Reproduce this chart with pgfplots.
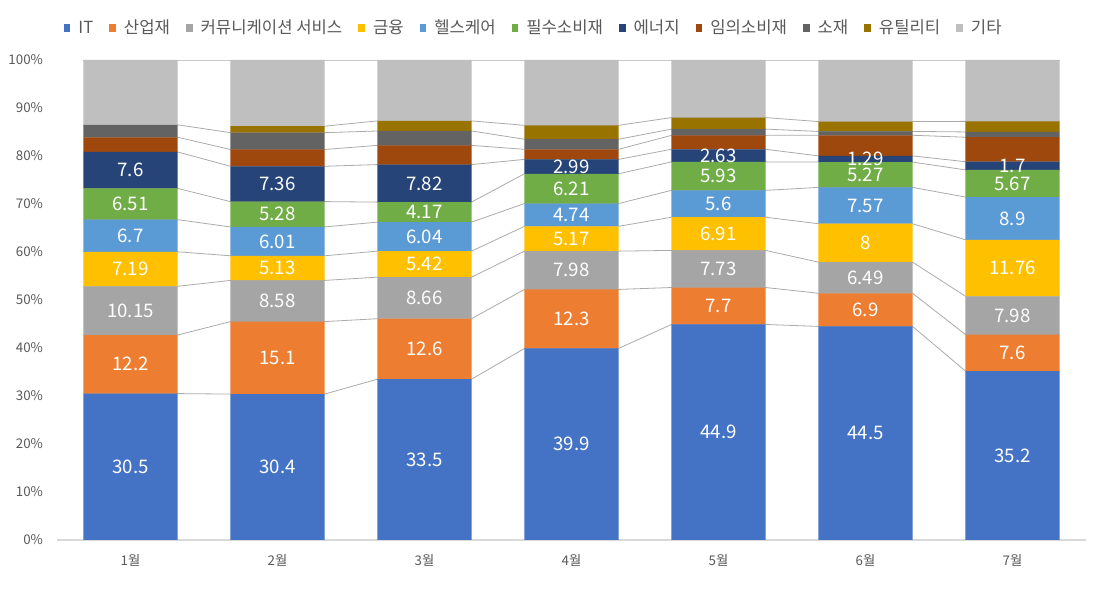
\documentclass[border=0pt]{standalone}
\usepackage{fontspec}
\setmainfont{Noto Sans CJK KR}
\usepackage{pgfplots}
\pgfplotsset{compat=1.18}
\usepackage{pgfplotstable}

\definecolor{cIT}{HTML}{4472C4}
\definecolor{cind}{HTML}{ED7D31}
\definecolor{ccom}{HTML}{A5A5A5}
\definecolor{cfin}{HTML}{FFC000}
\definecolor{chea}{HTML}{5B9BD5}
\definecolor{csta}{HTML}{70AD47}
\definecolor{cene}{HTML}{264478}
\definecolor{cdis}{HTML}{9E480E}
\definecolor{cmat}{HTML}{636363}
\definecolor{cuti}{HTML}{997300}
\definecolor{coth}{HTML}{BFBFBF}
\definecolor{tgray}{HTML}{595959}
\definecolor{sline}{HTML}{ABABAB}
\definecolor{aline}{HTML}{D9D9D9}

% monthly shares (%)
\pgfplotstableread{
x IT ind com fin hea sta ene dis mat uti oth
0 30.5 12.2 10.15 7.19 6.7 6.51 7.6 3.05 2.6 0 13.5
1 30.4 15.1 8.58 5.13 6.01 5.28 7.36 3.5 3.5 1.35 13.79
2 33.5 12.6 8.66 5.42 6.04 4.17 7.82 4.0 3.0 2.1 12.69
3 39.9 12.3 7.98 5.17 4.74 6.21 2.99 2.1 2.1 2.9 13.61
4 44.9 7.7 7.73 6.91 5.6 5.93 2.63 2.9 1.3 2.4 12.0
5 44.5 6.9 6.49 8 7.57 5.27 1.29 4.3 0.8 2.05 12.83
6 35.2 7.6 7.98 11.76 8.9 5.67 1.7 5.1 1.1 2.2 12.79
}\data

% same shares at the left and right edge of each bar (series lines)
\pgfplotstableread{
x IT ind com fin hea sta ene dis mat uti oth
-0.32 30.5 12.2 10.15 7.19 6.7 6.51 7.6 3.05 2.6 0 13.5
0.32 30.5 12.2 10.15 7.19 6.7 6.51 7.6 3.05 2.6 0 13.5
0.68 30.4 15.1 8.58 5.13 6.01 5.28 7.36 3.5 3.5 1.35 13.79
1.32 30.4 15.1 8.58 5.13 6.01 5.28 7.36 3.5 3.5 1.35 13.79
1.68 33.5 12.6 8.66 5.42 6.04 4.17 7.82 4.0 3.0 2.1 12.69
2.32 33.5 12.6 8.66 5.42 6.04 4.17 7.82 4.0 3.0 2.1 12.69
2.68 39.9 12.3 7.98 5.17 4.74 6.21 2.99 2.1 2.1 2.9 13.61
3.32 39.9 12.3 7.98 5.17 4.74 6.21 2.99 2.1 2.1 2.9 13.61
3.68 44.9 7.7 7.73 6.91 5.6 5.93 2.63 2.9 1.3 2.4 12.0
4.32 44.9 7.7 7.73 6.91 5.6 5.93 2.63 2.9 1.3 2.4 12.0
4.68 44.5 6.9 6.49 8 7.57 5.27 1.29 4.3 0.8 2.05 12.83
5.32 44.5 6.9 6.49 8 7.57 5.27 1.29 4.3 0.8 2.05 12.83
5.68 35.2 7.6 7.98 11.76 8.9 5.67 1.7 5.1 1.1 2.2 12.79
6.32 35.2 7.6 7.98 11.76 8.9 5.67 1.7 5.1 1.1 2.2 12.79
}\lines

\pgfplotsset{
  common/.style={
    scale only axis, width=771.75pt, height=360pt,
    at={(42.75pt,39pt)}, anchor=south west,
    xmin=-0.5, xmax=6.5, ymin=0, ymax=100,
  },
  lbl/.style={
    nodes near coords, point meta=explicit,
    every node near coord/.append style={anchor=center, text=white,
      font=\fontsize{14pt}{16pt}\selectfont},
  },
}

\begin{document}
\begin{tikzpicture}
\useasboundingbox (0,0) rectangle (825pt,444pt);
% series lines
\begin{axis}[common, hide axis, stack plots=y]
\foreach \c in {IT,ind,com,fin,hea,sta,ene,dis,mat}{
  \addplot[sline, line width=0.6pt, mark=none] table[x=x, y=\c] {\lines};
}
\addplot[draw=none, mark=none] table[x=x, y=uti] {\lines};
\addplot[sline, line width=0.6pt, mark=none] table[x=x, y=oth] {\lines};
\end{axis}
% series line of utilities (none in the first month)
\begin{axis}[common, hide axis]
\addplot[sline, line width=0.6pt, mark=none, skip coords between index={0}{2}]
  table[x=x, y expr=\thisrow{IT}+\thisrow{ind}+\thisrow{com}+\thisrow{fin}+\thisrow{hea}+\thisrow{sta}+\thisrow{ene}+\thisrow{dis}+\thisrow{mat}+\thisrow{uti}] {\lines};
\end{axis}
% bars
\begin{axis}[common,
  ybar stacked, bar width=0.64,
  axis x line=bottom, axis y line=left,
  x axis line style={draw=aline, line width=0.8pt, -},
  y axis line style={draw=none},
  major tick length=0pt,
  xtick={0,...,6},
  xticklabels={1월,2월,3월,4월,5월,6월,7월},
  ytick={0,10,...,100},
  yticklabels={0\%,10\%,20\%,30\%,40\%,50\%,60\%,70\%,80\%,90\%,100\%},
  ticklabel style={text=tgray, font=\fontsize{10pt}{12pt}\selectfont},
  yticklabel style={xshift=-7pt},
  xticklabel style={yshift=-7pt},
  /pgf/number format/assume math mode=true,
  legend columns=11,
  legend style={draw=none, fill=none, at={(rel axis cs:0.4636,1.0667)}, anchor=center,
    font=\fontsize{12.5pt}{15pt}\selectfont, text=tgray,
    /tikz/every odd column/.append style={column sep=4pt},
    /tikz/every even column/.append style={column sep=10pt},
    inner sep=0pt},
  legend image code/.code={\fill[#1] (0pt,-2.8pt) rectangle (5pt,2.8pt);},
]
\addplot[fill=cIT, draw=none, lbl] table[x=x, y=IT, meta=IT] {\data};
\addplot[fill=cind, draw=none, lbl] table[x=x, y=ind, meta=ind] {\data};
\addplot[fill=ccom, draw=none, lbl] table[x=x, y=com, meta=com] {\data};
\addplot[fill=cfin, draw=none, lbl] table[x=x, y=fin, meta=fin] {\data};
\addplot[fill=chea, draw=none, lbl] table[x=x, y=hea, meta=hea] {\data};
\addplot[fill=csta, draw=none, lbl] table[x=x, y=sta, meta=sta] {\data};
\addplot[fill=cene, draw=none, lbl] table[x=x, y=ene, meta=ene] {\data};
\addplot[fill=cdis, draw=none] table[x=x, y=dis] {\data};
\addplot[fill=cmat, draw=none] table[x=x, y=mat] {\data};
\addplot[fill=cuti, draw=none] table[x=x, y=uti] {\data};
\addplot[fill=coth, draw=none] table[x=x, y=oth] {\data};
\legend{IT,산업재,커뮤니케이션 서비스,금융,헬스케어,필수소비재,에너지,임의소비재,소재,유틸리티,기타}
\end{axis}
\end{tikzpicture}
\end{document}
